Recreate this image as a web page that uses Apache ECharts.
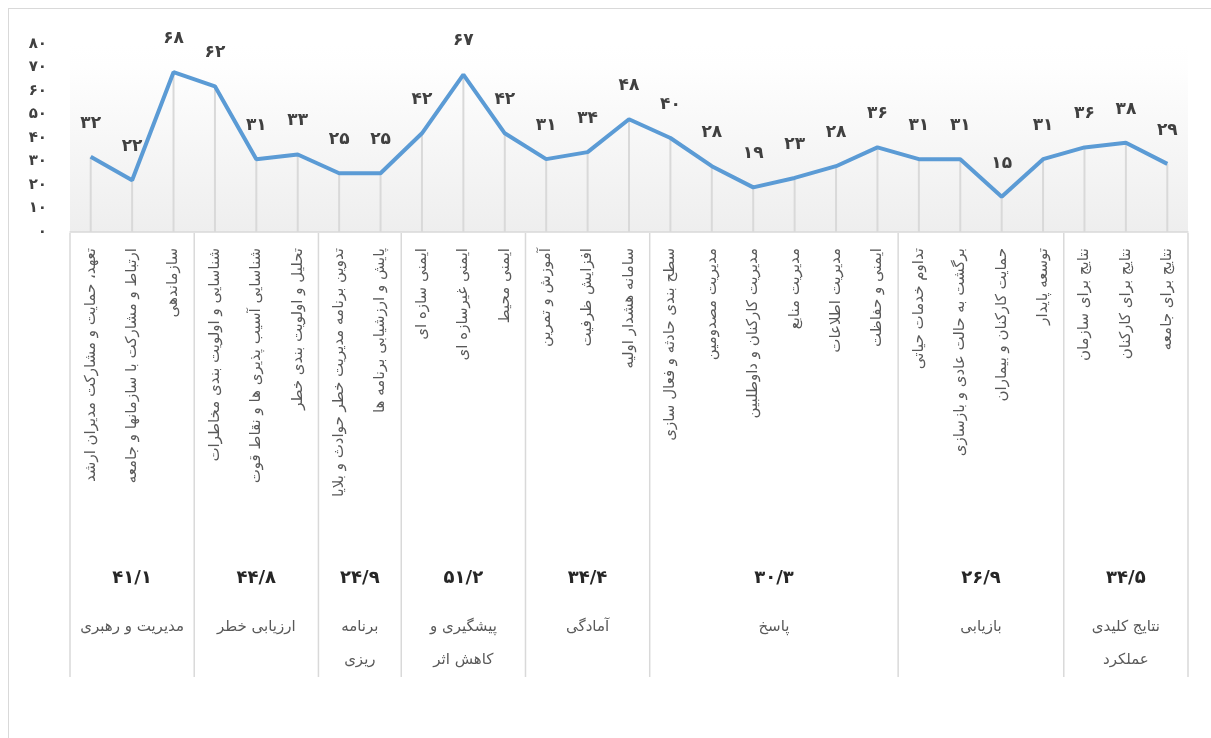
<!DOCTYPE html>
<html>
<head>
<meta charset="utf-8">
<script src="https://cdn.jsdelivr.net/npm/echarts@6/dist/echarts.min.js"></script>
<style>
  html, body { margin: 0; padding: 0; width: 1211px; height: 738px; overflow: hidden; background: #fff; }
  #frame { position: absolute; left: 8px; top: 8px; width: 1400px; height: 900px; border: 1.5px solid #d9d9d9; }
  #chart { position: absolute; left: 0; top: 0; width: 1211px; height: 738px; }
</style>
</head>
<body>
<div id="frame"></div>
<div id="chart"></div>
<script>
// ---- data ----
const categories = [
  'تعهد، حمایت و مشارکت مدیران ارشد',
  'ارتباط و مشارکت با سازمانها و جامعه',
  'سازماندهی',
  'شناسایی و اولویت بندی مخاطرات',
  'شناسایی آسیب پذیری ها و نقاط قوت',
  'تحلیل و اولویت بندی خطر',
  'تدوین برنامه مدیریت خطر حوادث و بلایا',
  'پایش و ارزشیابی برنامه ها',
  'ایمنی سازه ای',
  'ایمنی غیرسازه ای',
  'ایمنی محیط',
  'آموزش و تمرین',
  'افزایش ظرفیت',
  'سامانه هشدار اولیه',
  'سطح بندی حادثه و فعال سازی',
  'مدیریت مصدومین',
  'مدیریت کارکنان و داوطلبین',
  'مدیریت منابع',
  'مدیریت اطلاعات',
  'ایمنی و حفاظت',
  'تداوم خدمات حیاتی',
  'برگشت به حالت عادی و بازسازی',
  'حمایت کارکنان و بیماران',
  'توسعه پایدار',
  'نتایج برای سازمان',
  'نتایج برای کارکنان',
  'نتایج برای جامعه'
];
const values = [32, 22, 68, 62, 31, 33, 25, 25, 42, 67, 42, 31, 34, 48, 40, 28, 19, 23, 28, 36, 31, 31, 15, 31, 36, 38, 29];
const groupNames = ['مدیریت و رهبری', 'ارزیابی خطر', 'برنامه\nریزی', 'پیشگیری و\nکاهش اثر', 'آمادگی', 'پاسخ', 'بازیابی', 'نتایج کلیدی\nعملکرد'];
const groupCounts = [3, 3, 2, 3, 3, 6, 4, 3];
const groupMeans = [41.1, 44.8, 24.9, 51.2, 34.4, 30.3, 26.9, 34.5];
const yMin = 0, yMax = 80, yStep = 10;
const persianDigits = '۰۱۲۳۴۵۶۷۸۹';

// ---- helpers ----
function fa(n) {
  return String(n).replace('.', '/').replace(/\d/g, d => persianDigits[d]);
}
const groupData = [];
let acc = 0;
groupCounts.forEach((c, i) => {
  groupData.push([acc, acc + c, i]);
  acc += c;
});
const total = acc;

const FONT = 'DejaVu Sans';
const chart = echarts.init(document.getElementById('chart'), null, { renderer: 'canvas' });

const option = {
  animation: false,
  textStyle: { fontFamily: FONT },
  grid: [
    { left: 70, right: 23, top: 44, bottom: 506, show: true, borderWidth: 0,
      backgroundColor: new echarts.graphic.LinearGradient(0, 0, 0, 1, [
        { offset: 0, color: '#ffffff' },
        { offset: 0.12, color: '#fefefe' },
        { offset: 1, color: '#eeeeee' }
      ]) },
    { left: 70, right: 23, top: 233, height: 444, show: false }
  ],
  xAxis: [
    { type: 'category', gridIndex: 0, data: categories, boundaryGap: true,
      axisLine: { lineStyle: { color: '#d9d9d9', width: 1.5 } },
      axisTick: { show: false },
      splitLine: { show: false },
      axisLabel: { interval: 0, rotate: 90, margin: 16, fontSize: 15, color: '#595959', fontFamily: FONT } },
    { type: 'value', gridIndex: 1, min: 0, max: total, show: false }
  ],
  yAxis: [
    { type: 'value', gridIndex: 0, min: yMin, max: yMax, interval: yStep,
      axisLine: { show: false }, axisTick: { show: false }, splitLine: { show: false },
      axisLabel: { margin: 23, fontSize: 15, fontWeight: 'bold', color: '#404040', fontFamily: FONT, formatter: v => fa(v) } },
    { type: 'value', gridIndex: 1, min: 0, max: 1, inverse: true, show: false }
  ],
  series: [
    { type: 'bar', xAxisIndex: 0, yAxisIndex: 0, data: values, barWidth: 2,
      itemStyle: { color: '#d9d9d9' }, silent: true, z: 1,
      label: { show: true, position: 'top', distance: 25, fontSize: 17, fontWeight: 'bold', color: '#404040', fontFamily: FONT,
        formatter: p => fa(p.value) } },
    { type: 'line', xAxisIndex: 0, yAxisIndex: 0, data: values, symbol: 'none',
      lineStyle: { color: '#5b9bd5', width: 4 }, z: 3 },
    { type: 'custom', xAxisIndex: 1, yAxisIndex: 1, data: groupData, clip: false, z: 2,
      renderItem: function (params, api) {
        const s = api.value(0), e = api.value(1), idx = api.value(2);
        const top = api.coord([s, 0]);
        const bot = api.coord([s, 1]);
        const children = [
          { type: 'line', shape: { x1: top[0], y1: top[1], x2: bot[0], y2: bot[1] },
            style: { stroke: '#d9d9d9', lineWidth: 1.5 } }
        ];
        if (e === total) {
          const t2 = api.coord([e, 0]), b2 = api.coord([e, 1]);
          children.push({ type: 'line', shape: { x1: t2[0], y1: t2[1], x2: b2[0], y2: b2[1] },
            style: { stroke: '#d9d9d9', lineWidth: 1.5 } });
        }
        const pm = api.coord([(s + e) / 2, 0.777]);
        children.push({ type: 'text', x: pm[0], y: pm[1],
          style: { text: fa(groupMeans[idx]), fontSize: 18, fontWeight: 'bold', fill: '#262626', fontFamily: FONT,
            align: 'center', verticalAlign: 'middle' } });
        const pn = api.coord([(s + e) / 2, 0.850]);
        children.push({ type: 'text', x: pn[0], y: pn[1],
          style: { text: groupNames[idx], fontSize: 15, lineHeight: 33, fill: '#595959', fontFamily: FONT,
            align: 'center', verticalAlign: 'top' } });
        return { type: 'group', children: children };
      } }
  ]
};
chart.setOption(option);
</script>
</body>
</html>
